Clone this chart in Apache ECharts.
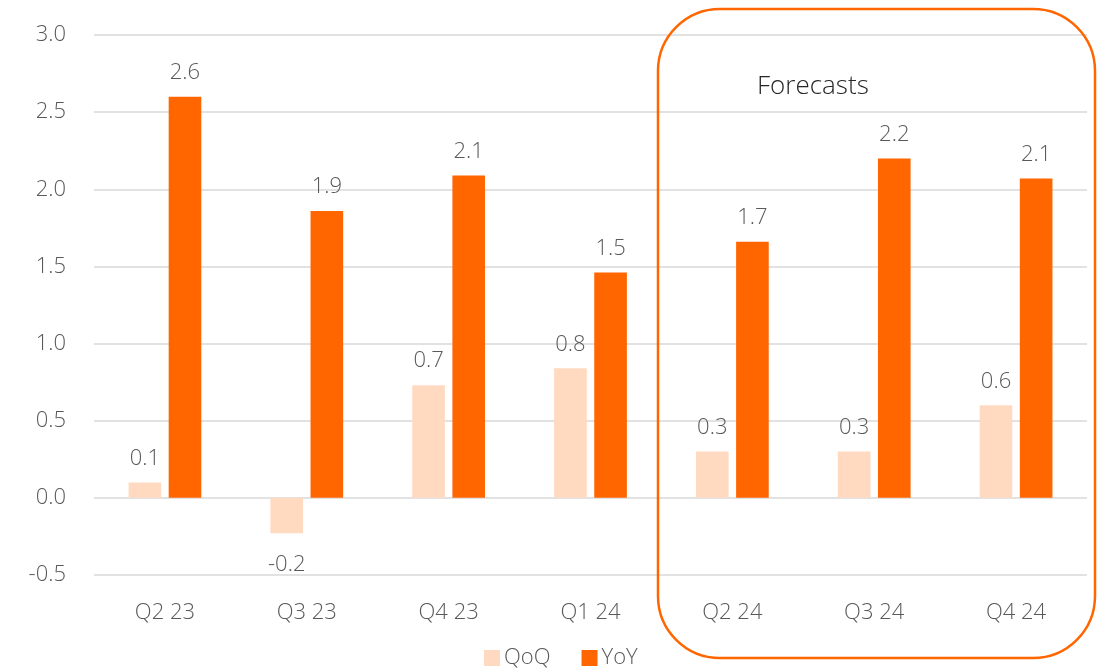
<!DOCTYPE html>
<html><head><meta charset="utf-8">
<script src="https://cdn.jsdelivr.net/npm/echarts@6/dist/echarts.min.js"></script>
<style>html,body{margin:0;padding:0;background:#fff}#c{width:1099px;height:670px}</style>
</head><body><div id="c"></div>
<script>
const categories = ['Q2 23','Q3 23','Q4 23','Q1 24','Q2 24','Q3 24','Q4 24'];
const qoq = [0.1, -0.23, 0.73, 0.84, 0.3, 0.3, 0.6];
const yoy = [2.6, 1.86, 2.09, 1.46, 1.66, 2.2, 2.07];
const seriesNames = ['QoQ','YoY'];
const forecastLabel = 'Forecasts';

const FONT = "'Open Sans', sans-serif";
const FS = 22;
const chart = echarts.init(document.getElementById('c'));
function mkData(arr){
  return arr.map(v => v < 0 ? {value: v, label: {position: 'bottom', distance: 20}} : v);
}
const labelCommon = {show: true, position: 'top', distance: 13, color: '#595959', fontSize: FS, fontFamily: FONT, fontWeight: 300,
  formatter: p => p.value.toFixed(1)};
chart.setOption({
  animation: false,
  grid: {left: 94, right: 12, top: 35, bottom: 95},
  legend: {data: seriesNames, left: 479, top: 642, itemWidth: 16, itemHeight: 16, itemGap: 31,
    icon: 'rect', textStyle: {color: '#595959', fontSize: FS, fontFamily: FONT, fontWeight: 300, padding: [0,0,0,-1]}},
  xAxis: {type: 'category', data: categories, axisLine: {show: false}, axisTick: {show: false},
    axisLabel: {color: '#595959', fontSize: FS, fontFamily: FONT, fontWeight: 300, margin: 27}},
  yAxis: {type: 'value', min: -0.5, max: 3.0, interval: 0.5,
    axisLabel: {color: '#595959', fontSize: FS, fontFamily: FONT, fontWeight: 300, margin: 28, formatter: v => v.toFixed(1)},
    splitLine: {lineStyle: {color: '#d9d9d9', width: 1.5}}},
  series: [
    {name: 'QoQ', type: 'bar', data: mkData(qoq), barWidth: '23%', barGap: '23%', itemStyle: {color: '#FFD9C0'}, label: labelCommon},
    {name: 'YoY', type: 'bar', data: mkData(yoy), barWidth: '23%', barGap: '23%', itemStyle: {color: '#FF6600'}, label: labelCommon}
  ],
  graphic: [
    {type: 'rect', shape: {x: 658, y: 9, width: 437, height: 649, r: 62}, style: {fill: 'none', stroke: '#FF6600', lineWidth: 2.5}, z: 100},
    {type: 'text', left: 757, top: 74, style: {text: forecastLabel, fill: '#262626', fontSize: 26, fontFamily: FONT, fontWeight: 300}, z: 100}
  ]
});
</script></body></html>
